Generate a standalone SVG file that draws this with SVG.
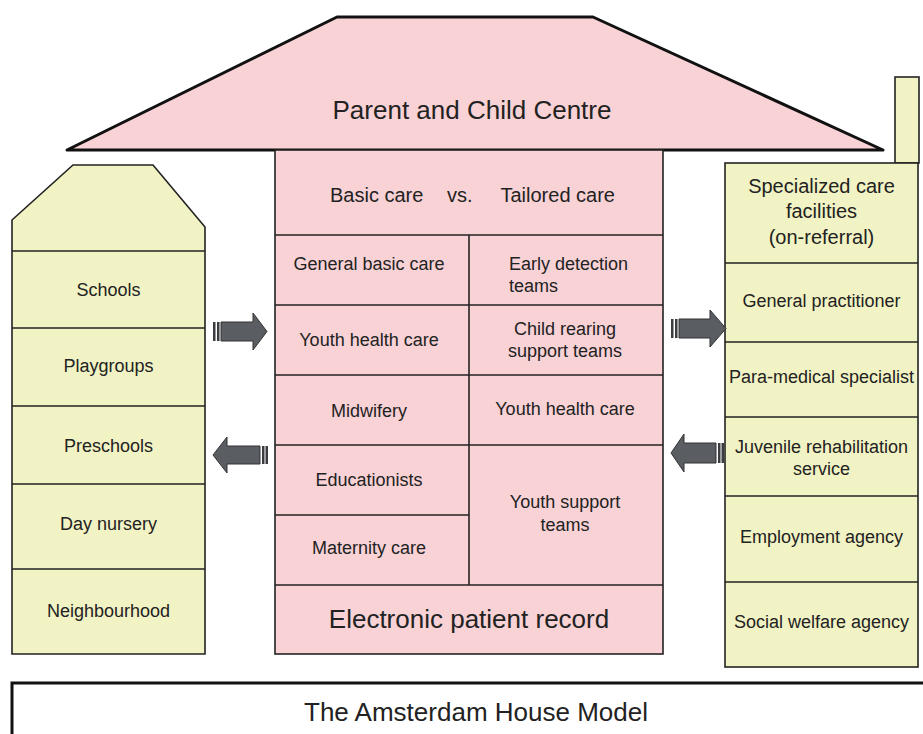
<svg xmlns="http://www.w3.org/2000/svg" width="923" height="734" viewBox="0 0 923 734">
<style>
.pink{fill:#f9d2d6;stroke:#222;stroke-width:1.6}
.yel{fill:#f2f3c4;stroke:#222;stroke-width:1.6}
.ln{stroke:#222;stroke-width:1.6;fill:none}
text{font-family:"Liberation Sans",Arial,sans-serif;fill:#222;text-anchor:middle}
.t18{font-size:18px}
.t20{font-size:20px}
.t26{font-size:26px}
.arr{fill:#5a5d62;stroke:#333;stroke-width:1}
.bar{fill:#3a3c40}
</style>
<rect width="923" height="734" fill="#fff"/>

<g id="roof">
<polygon points="67,150 337,17 593,17 883,150" fill="#f9d2d6" stroke="#111" stroke-width="3" stroke-linejoin="round"/>
<text class="t26" x="472" y="119">Parent and Child Centre</text>
</g>

<g id="centre">
<rect class="pink" x="275" y="150" width="388" height="504"/>
<line class="ln" x1="275" y1="235" x2="663" y2="235"/>
<line class="ln" x1="275" y1="305" x2="663" y2="305"/>
<line class="ln" x1="275" y1="375" x2="663" y2="375"/>
<line class="ln" x1="275" y1="445" x2="663" y2="445"/>
<line class="ln" x1="275" y1="515" x2="469" y2="515"/>
<line class="ln" x1="275" y1="585" x2="663" y2="585"/>
<line class="ln" x1="469" y1="235" x2="469" y2="585"/>
<text class="t20" x="330" y="202" style="text-anchor:start">Basic care</text>
<text class="t20" x="447" y="202" style="text-anchor:start">vs.</text>
<text class="t20" x="615" y="202" style="text-anchor:end">Tailored care</text>
<text class="t18" x="369" y="270">General basic care</text>
<text class="t18" x="509" y="270" style="text-anchor:start">Early detection</text>
<text class="t18" x="509" y="292" style="text-anchor:start">teams</text>
<text class="t18" x="369" y="346">Youth health care</text>
<text class="t18" x="565" y="335">Child rearing</text>
<text class="t18" x="565" y="357">support teams</text>
<text class="t18" x="369" y="417">Midwifery</text>
<text class="t18" x="565" y="415">Youth health care</text>
<text class="t18" x="369" y="486">Educationists</text>
<text class="t18" x="369" y="554">Maternity care</text>
<text class="t18" x="565" y="508">Youth support</text>
<text class="t18" x="565" y="531">teams</text>
<text class="t26" x="469" y="628">Electronic patient record</text>
</g>

<g id="left-building">
<polygon class="yel" points="12,654 12,220 73,165 153,165 205,227 205,654"/>
<line class="ln" x1="12" y1="251" x2="205" y2="251"/>
<line class="ln" x1="12" y1="328" x2="205" y2="328"/>
<line class="ln" x1="12" y1="406" x2="205" y2="406"/>
<line class="ln" x1="12" y1="484" x2="205" y2="484"/>
<line class="ln" x1="12" y1="569" x2="205" y2="569"/>
<text class="t18" x="108.5" y="296">Schools</text>
<text class="t18" x="108.5" y="372">Playgroups</text>
<text class="t18" x="108.5" y="452">Preschools</text>
<text class="t18" x="108.5" y="530">Day nursery</text>
<text class="t18" x="108.5" y="617">Neighbourhood</text>
</g>

<g id="right-building">
<rect class="yel" x="895" y="77" width="24" height="86"/>
<rect class="yel" x="725" y="163" width="193" height="504"/>
<line class="ln" x1="725" y1="263" x2="918" y2="263"/>
<line class="ln" x1="725" y1="342" x2="918" y2="342"/>
<line class="ln" x1="725" y1="417" x2="918" y2="417"/>
<line class="ln" x1="725" y1="496" x2="918" y2="496"/>
<line class="ln" x1="725" y1="582" x2="918" y2="582"/>
<text class="t20" x="821.5" y="193">Specialized care</text>
<text class="t20" x="821.5" y="218">facilities</text>
<text class="t20" x="821.5" y="244">(on-referral)</text>
<text class="t18" x="821.5" y="307">General practitioner</text>
<text class="t18" x="821.5" y="383">Para-medical specialist</text>
<text class="t18" x="821.5" y="453">Juvenile rehabilitation</text>
<text class="t18" x="821.5" y="475">service</text>
<text class="t18" x="821.5" y="543">Employment agency</text>
<text class="t18" x="821.5" y="628">Social welfare agency</text>
</g>

<g id="connectors">
<g id="arrow-left-in">
<rect class="bar" x="213" y="322" width="2.5" height="19"/>
<rect class="bar" x="217" y="322" width="2.5" height="19"/>
<polygon class="arr" points="221,322 253,322 253,313 267,331.5 253,350 253,341 221,341"/>
</g>
<g id="arrow-left-out">
<rect class="bar" x="265.5" y="446" width="2.5" height="18"/>
<rect class="bar" x="262" y="446" width="2.5" height="18"/>
<polygon class="arr" points="260,446 227,446 227,437 213,455 227,473 227,464 260,464"/>
</g>
<g id="arrow-right-in">
<rect class="bar" x="671" y="319" width="2.5" height="19"/>
<rect class="bar" x="675" y="319" width="2.5" height="19"/>
<polygon class="arr" points="679,319 710,319 710,310 726,328.5 710,347 710,338 679,338"/>
</g>
<g id="arrow-right-out">
<rect class="bar" x="721.5" y="443" width="2.5" height="20"/>
<rect class="bar" x="718" y="443" width="2.5" height="20"/>
<polygon class="arr" points="716,443 684,443 684,434 671,453 684,472 684,463 716,463"/>
</g>
</g>

<g id="title">
<rect x="12" y="683" width="930" height="80" fill="#fff" stroke="#111" stroke-width="3"/>
<text class="t26" x="476" y="721">The Amsterdam House Model</text>
</g>
</svg>
